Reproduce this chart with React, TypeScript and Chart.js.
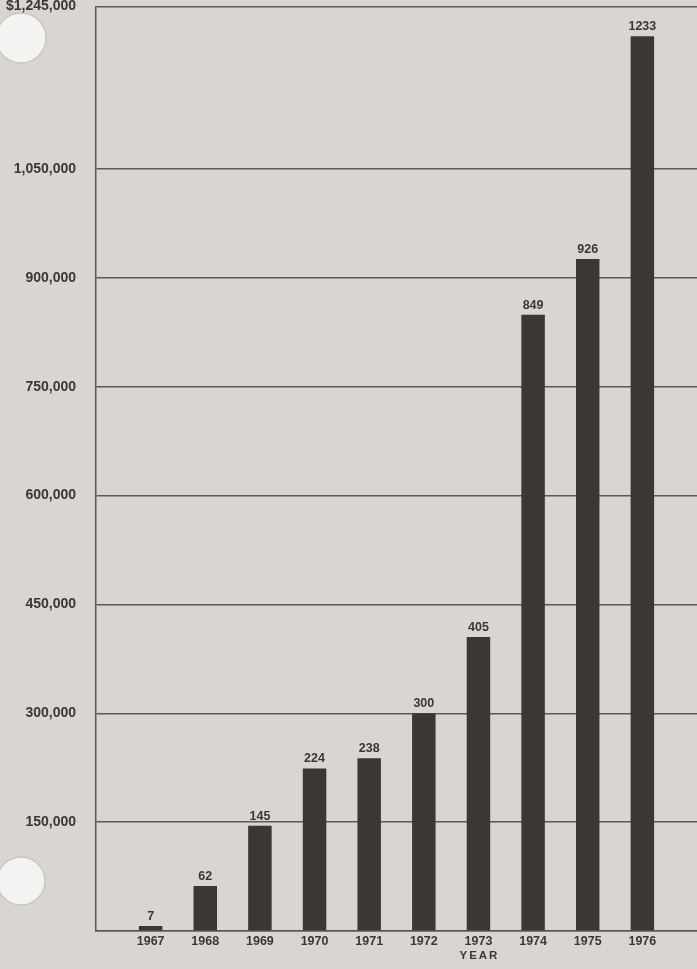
import React, { useEffect, useRef } from "react";
import { Chart, registerables } from "chart.js";

Chart.register(...registerables);

const years = ["1967", "1968", "1969", "1970", "1971", "1972", "1973", "1974", "1975", "1976"];
const valuesThousands = [7, 62, 145, 224, 238, 300, 405, 849, 926, 1233];
const yTickValues = [0, 150000, 300000, 450000, 600000, 750000, 900000, 1050000, 1274000];
const yTickLabels = ["", "150,000", "300,000", "450,000", "600,000", "750,000", "900,000", "1,050,000", "$1,245,000"];
const xTitle = "YEAR";

const PAPER = "#d9d6d1";
const INK = "#3a3735";
const LINE = "#5b5957";
const TOP_SHIFT = 22;

export default function App() {
  const ref = useRef<HTMLCanvasElement | null>(null);

  useEffect(() => {
    document.body.style.margin = "0";
    const canvas = ref.current;
    if (!canvas) return;

    const labels = ["", ...years, ""];
    const data = [null, ...valuesThousands.map((v) => v * 1000), null];

    const paperPlugin = {
      id: "paper",
      beforeDraw(chart: any) {
        const ctx = chart.ctx;
        ctx.save();
        ctx.fillStyle = PAPER;
        ctx.fillRect(0, 0, chart.width, chart.height);
        const holes = [
          [21, 38 + TOP_SHIFT, 25],
          [21, 881 + TOP_SHIFT, 24],
        ];
        for (const [x, y, r] of holes) {
          ctx.beginPath();
          ctx.arc(x, y, r, 0, Math.PI * 2);
          ctx.fillStyle = "#f3f3f1";
          ctx.fill();
          ctx.lineWidth = 1.5;
          ctx.strokeStyle = "#c9c6c2";
          ctx.stroke();
        }
        ctx.restore();
      },
      afterDatasetsDraw(chart: any) {
        const ctx = chart.ctx;
        const meta = chart.getDatasetMeta(0);
        ctx.save();
        ctx.font = "bold 12.5px 'Liberation Sans', Arial, sans-serif";
        ctx.fillStyle = INK;
        ctx.textAlign = "center";
        ctx.textBaseline = "alphabetic";
        meta.data.forEach((bar: any, i: number) => {
          const v = data[i];
          if (v === null || v === undefined) return;
          ctx.fillText(String(valuesThousands[i - 1]), bar.x, bar.y - 6);
        });
        ctx.restore();
      },
      afterDraw(chart: any) {
        const ctx = chart.ctx;
        const xs = chart.scales.x;
        const x = xs.getPixelForValue(labels.indexOf("1973"));
        ctx.save();
        ctx.font = "bold 11.5px 'Liberation Sans', Arial, sans-serif";
        (ctx as any).letterSpacing = "2px";
        ctx.fillStyle = INK;
        ctx.textAlign = "center";
        ctx.textBaseline = "middle";
        ctx.fillText(xTitle, x + 1, chart.chartArea.bottom + 25);
        ctx.restore();
      },
    };

    const chart = new Chart(canvas, {
      type: "bar",
      data: {
        labels,
        datasets: [
          {
            data,
            backgroundColor: INK,
            borderWidth: 0,
            categoryPercentage: 1,
            barPercentage: 0.43,
          },
        ],
      },
      options: {
        responsive: false,
        animation: false,
        devicePixelRatio: 1,
        layout: { padding: 0 },
        plugins: {
          legend: { display: false },
          tooltip: { enabled: false },
          title: { display: false },
        },
        scales: {
          x: {
            offset: false,
            grid: { display: false, drawTicks: false },
            border: { display: true, color: LINE, width: 1.5 },
            ticks: {
              autoSkip: false,
              maxRotation: 0,
              padding: 3,
              color: INK,
              font: { family: "'Liberation Sans', Arial, sans-serif", size: 12.5, weight: "bold" },
            },
            afterFit(scale: any) {
              scale.height = 38;
            },
          },
          y: {
            min: 0,
            max: 1274000,
            grid: { color: LINE, lineWidth: 1.5, drawTicks: false },
            border: { display: true, color: LINE, width: 1.5 },
            afterBuildTicks(scale: any) {
              scale.ticks = yTickValues.map((v) => ({ value: v }));
            },
            ticks: {
              padding: 20,
              color: INK,
              font: { family: "'Liberation Sans', Arial, sans-serif", size: 14, weight: "bold" },
              callback: (v: any) => {
                const i = yTickValues.indexOf(Number(v));
                return i >= 0 ? yTickLabels[i] : "";
              },
            },
            afterFit(scale: any) {
              scale.width = 96;
            },
          },
        },
      },
      plugins: [paperPlugin],
    });

    return () => chart.destroy();
  }, []);

  return (
    <div style={{ position: "relative", width: 697, height: 969, overflow: "hidden", background: PAPER }}>
      <canvas
        ref={ref}
        width={700}
        height={969 + TOP_SHIFT}
        style={{ position: "absolute", left: 0, top: -TOP_SHIFT, width: 700, height: 969 + TOP_SHIFT, display: "block" }}
      />
    </div>
  );
}
